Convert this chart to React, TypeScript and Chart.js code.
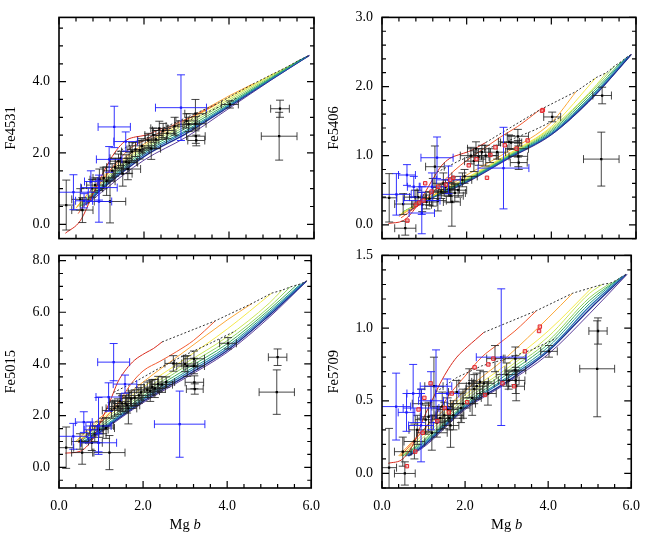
import React, { useEffect, useRef } from "react";
import { Chart, registerables } from "chart.js";

Chart.register(...registerables);

// ---------------- DATA ----------------
// Model tracks (red = youngest ... purple = oldest); Mg b sample points shared by all panels
const trackMgb: number[][] = [
  [0.15, 0.5, 0.8, 1.0, 1.2, 1.4, 1.6, 1.8, 2.05, 2.25, 2.45],
  [0.45, 1.0, 1.4, 1.7, 2.0, 2.4, 2.8, 3.2, 3.72],
  [0.4, 1.0, 2.0, 3.0, 4.0, 4.59],
  [0.42, 1.0, 2.0, 3.0, 4.0, 5.06],
  [0.45, 1.0, 2.0, 3.0, 4.0, 5.0, 5.3],
  [0.48, 1.0, 2.0, 3.0, 4.0, 5.0, 5.5],
  [0.5, 1.0, 2.0, 3.0, 4.0, 5.0, 5.65],
  [0.55, 1.0, 2.0, 3.0, 4.0, 5.0, 5.75],
  [0.58, 1.0, 2.0, 3.0, 4.0, 5.0, 5.82],
  [0.62, 1.0, 2.0, 3.0, 4.0, 5.0, 5.88],
  [0.65, 1.0, 2.0, 3.0, 4.0, 5.0, 5.9],
];

const trackFe4531: number[][] = [
  [-0.25, 0.1, 0.85, 1.35, 1.8, 2.15, 2.37, 2.45, 2.5, 2.6, 2.7],
  [0.3, 1.2, 1.8, 2.15, 2.35, 2.6, 2.85, 3.05, 3.38],
  [0.45, 1.3, 2.25, 2.93, 3.6, 3.95],
  [0.5, 1.25, 2.2, 2.88, 3.55, 4.23],
  [0.5, 1.2, 2.15, 2.82, 3.5, 4.18, 4.37],
  [0.5, 1.15, 2.1, 2.76, 3.45, 4.15, 4.5],
  [0.5, 1.1, 2.05, 2.7, 3.4, 4.12, 4.6],
  [0.52, 1.06, 2.0, 2.64, 3.36, 4.1, 4.66],
  [0.52, 1.02, 1.95, 2.6, 3.33, 4.08, 4.7],
  [0.55, 0.98, 1.9, 2.55, 3.3, 4.07, 4.73],
  [0.55, 0.9, 1.8, 2.45, 3.25, 4.05, 4.74],
];

const trackFe5406: number[][] = [
  [0.02, 0.06, 0.25, 0.45, 0.66, 0.85, 0.96, 1.01, 1.06, 1.12, 1.19],
  [0.1, 0.35, 0.6, 0.78, 0.93, 1.1, 1.27, 1.42, 1.66],
  [0.12, 0.35, 0.72, 1.07, 1.48, 1.93],
  [0.14, 0.35, 0.68, 1.03, 1.42, 2.13],
  [0.16, 0.36, 0.67, 1.02, 1.4, 1.98, 2.2],
  [0.18, 0.36, 0.66, 1.01, 1.38, 1.96, 2.3],
  [0.19, 0.35, 0.65, 1.0, 1.36, 1.93, 2.36],
  [0.2, 0.35, 0.64, 0.99, 1.34, 1.9, 2.41],
  [0.2, 0.34, 0.63, 0.98, 1.32, 1.88, 2.44],
  [0.2, 0.34, 0.62, 0.97, 1.31, 1.86, 2.46],
  [0.2, 0.33, 0.61, 0.96, 1.3, 1.85, 2.47],
];

const trackFe5015: number[][] = [
  [0.55, 0.62, 1.1, 1.8, 2.5, 3.3, 3.8, 4.15, 4.42, 4.6, 4.85],
  [0.95, 1.75, 2.45, 3.2, 3.73, 4.1, 4.48, 4.91, 5.67],
  [1.0, 1.95, 3.3, 4.5, 5.7, 6.34],
  [1.02, 1.85, 3.1, 4.2, 5.35, 6.74],
  [1.0, 1.75, 2.95, 4.02, 5.05, 6.35, 6.85],
  [1.0, 1.66, 2.85, 3.9, 4.9, 6.2, 6.98],
  [0.98, 1.58, 2.76, 3.78, 4.78, 6.1, 7.05],
  [0.96, 1.5, 2.68, 3.68, 4.68, 6.02, 7.1],
  [0.95, 1.45, 2.62, 3.6, 4.6, 5.95, 7.15],
  [0.92, 1.4, 2.55, 3.52, 4.52, 5.88, 7.2],
  [0.9, 1.35, 2.5, 3.45, 4.45, 5.8, 7.22],
];

const trackFe5709: number[][] = [
  [0.07, 0.1, 0.23, 0.38, 0.5, 0.62, 0.72, 0.8, 0.87, 0.92, 0.97],
  [0.12, 0.3, 0.45, 0.57, 0.67, 0.8, 0.89, 0.98, 1.12],
  [0.12, 0.3, 0.57, 0.8, 1.07, 1.24],
  [0.12, 0.27, 0.54, 0.75, 0.98, 1.28],
  [0.12, 0.25, 0.52, 0.72, 0.94, 1.24, 1.3],
  [0.12, 0.23, 0.5, 0.7, 0.91, 1.21, 1.31],
  [0.12, 0.22, 0.48, 0.68, 0.89, 1.19, 1.33],
  [0.12, 0.21, 0.47, 0.66, 0.87, 1.17, 1.35],
  [0.12, 0.2, 0.46, 0.65, 0.85, 1.15, 1.36],
  [0.12, 0.19, 0.45, 0.63, 0.84, 1.13, 1.37],
  [0.12, 0.18, 0.44, 0.62, 0.82, 1.1, 1.37],
];

// lower iso-metallicity (dotted) line
const lowerDotMgb = [1.3, 1.8, 2.4, 3.0, 3.6, 4.2];
const lowerDotFe4531 = [1.98, 2.3, 2.58, 2.88, 3.2, 3.55];
const lowerDotFe5406 = [0.76, 0.92, 1.08, 1.22, 1.37, 1.55];
const lowerDotFe5015 = [2.9, 3.3, 3.85, 4.35, 4.8, 5.28];
const lowerDotFe5709 = [0.56, 0.66, 0.74, 0.79, 0.85, 0.93];

// black objects
const blackMgb = [5.2, 5.18, 4.02, 3.21, 3.21, 3.22, 3.23, 3.05, 2.72, 2.45, 2.36, 2.28, 2.22, 2.17, 2.1, 1.9, 1.8, 1.72, 1.65, 1.58, 1.5, 1.4, 1.32, 1.25, 1.2, 1.12, 1.05, 0.95, 0.85, 0.78, 0.55, 0.5, 0.17, 1.62, 2.55, 3.0, 1.95, 1.45];
const blackMgbErr = [0.22, 0.42, 0.2, 0.25, 0.25, 0.22, 0.2, 0.25, 0.2, 0.25, 0.2, 0.25, 0.2, 0.22, 0.25, 0.22, 0.2, 0.25, 0.2, 0.25, 0.22, 0.2, 0.2, 0.22, 0.37, 0.2, 0.25, 0.22, 0.2, 0.25, 0.25, 0.2, 0.18, 0.3, 0.2, 0.25, 0.3, 0.25];
const blackFe4531 = [3.24, 2.47, 3.36, 3.1, 2.82, 2.47, 2.35, 2.8, 2.75, 2.63, 2.69, 2.38, 2.5, 2.12, 2.35, 2.08, 2.1, 2.04, 1.73, 1.75, 1.42, 1.77, 1.6, 1.5, 0.64, 1.21, 1.3, 1.25, 1.1, 1.01, 0.4, 0.7, 0.54, 1.55, 2.55, 2.9, 2.2, 1.85];
const blackFe4531Err = [0.24, 0.67, 0.1, 0.4, 0.2, 0.2, 0.15, 0.2, 0.25, 0.2, 0.2, 0.25, 0.2, 0.3, 0.2, 0.25, 0.2, 0.25, 0.3, 0.2, 0.35, 0.2, 0.25, 0.2, 0.6, 0.4, 0.3, 0.3, 0.2, 0.25, 0.35, 0.3, 0.7, 0.3, 0.15, 0.2, 0.2, 0.2];
const blackFe5406 = [1.87, 0.95, 1.56, 1.28, 1.1, 0.99, 0.9, 1.19, 1.05, 1.0, 1.05, 0.98, 1.1, 0.92, 1.0, 0.65, 0.5, 0.46, 0.33, 0.51, 0.55, 0.48, 0.35, 0.84, 0.47, 0.38, 0.33, 0.29, 0.4, 0.4, -0.05, 0.3, 0.39, 0.42, 1.0, 1.2, 0.7, 0.6];
const blackFe5406Err = [0.12, 0.39, 0.07, 0.1, 0.12, 0.15, 0.1, 0.1, 0.1, 0.15, 0.1, 0.12, 0.1, 0.15, 0.12, 0.1, 0.1, 0.12, 0.35, 0.1, 0.1, 0.1, 0.15, 0.3, 0.2, 0.1, 0.1, 0.1, 0.1, 0.1, 0.1, 0.15, 0.35, 0.1, 0.1, 0.1, 0.1, 0.15];
const blackFe5015 = [4.26, 2.91, 4.8, 4.2, 3.92, 3.29, 3.03, 3.92, 4.02, 3.2, 3.22, 3.05, 3.1, 2.95, 3.0, 2.78, 2.7, 2.66, 2.28, 2.47, 2.47, 2.35, 2.28, 2.2, 0.57, 1.52, 1.6, 1.46, 1.3, 0.95, 0.57, 1.0, 0.76, 2.4, 3.3, 4.0, 2.9, 2.55];
const blackFe5015Err = [0.32, 0.86, 0.22, 0.3, 0.3, 0.25, 0.2, 0.4, 0.3, 0.3, 0.3, 0.35, 0.3, 0.4, 0.3, 0.3, 0.3, 0.3, 0.6, 0.3, 0.3, 0.3, 0.3, 0.3, 0.66, 0.4, 0.3, 0.3, 0.3, 0.3, 0.45, 0.3, 0.8, 0.3, 0.2, 0.3, 0.3, 0.3];
const blackFe5709 = [0.98, 0.72, 0.84, 0.79, 0.71, 0.64, 0.6, 0.64, 0.79, 0.62, 0.63, 0.6, 0.58, 0.52, 0.62, 0.45, 0.56, 0.4, 0.33, 0.44, 0.4, 0.38, 0.35, 0.6, 0.28, 0.39, 0.37, 0.48, 0.3, 0.22, 0.0, 0.15, 0.04, 0.38, 0.55, 0.68, 0.48, 0.46];
const blackFe5709Err = [0.09, 0.33, 0.04, 0.08, 0.1, 0.09, 0.1, 0.06, 0.09, 0.08, 0.08, 0.09, 0.1, 0.12, 0.1, 0.1, 0.08, 0.1, 0.15, 0.08, 0.09, 0.08, 0.1, 0.2, 0.12, 0.1, 0.1, 0.1, 0.1, 0.12, 0.08, 0.1, 0.27, 0.08, 0.08, 0.08, 0.1, 0.1];

// blue objects
const blueMgb = [2.87, 1.3, 1.57, 1.18, 0.94, 0.94, 0.34, 0.59, 0.75];
const blueMgbErr = [0.6, 0.38, 0.28, 0.3, 0.43, 0.3, 0.35, 0.2, 0.15];
const blueFe4531 = [3.27, 2.73, 2.32, 1.82, 1.03, 0.64, 0.9, 0.66, 1.2];
const blueFe4531Err = [0.92, 0.58, 0.27, 0.36, 0.35, 0.58, 0.49, 0.2, 0.3];
const blueFe5406 = [0.82, 0.97, 0.65, 0.55, 0.35, 0.17, 0.44, 0.72, 0.55];
const blueFe5406Err = [0.59, 0.3, 0.2, 0.2, 0.2, 0.3, 0.3, 0.15, 0.15];
const blueFe5015 = [1.67, 4.07, 3.22, 2.72, 0.95, 1.6, 1.2, 1.75, 1.45];
const blueFe5015Err = [1.28, 0.72, 0.35, 0.55, 0.35, 1.1, 0.5, 0.4, 0.3];
const blueFe5709 = [0.8, 0.6, 0.55, 0.5, 0.45, 0.33, 0.46, 0.42, 0.55];
const blueFe5709Err = [0.47, 0.25, 0.1, 0.2, 0.1, 0.25, 0.23, 0.13, 0.2];

// red squares (right-hand panels only)
const redMgb = [3.8, 3.78, 3.44, 3.18, 2.9, 2.68, 2.56, 2.48, 2.23, 2.05, 1.68, 1.61, 1.51, 1.33, 1.17, 1.02, 0.98, 0.88, 0.8, 0.6];
const redFe5406 = [1.66, 1.65, 1.22, 1.1, 1.15, 1.12, 1.01, 0.68, 0.95, 0.86, 0.68, 0.65, 0.58, 0.55, 0.48, 0.6, 0.35, 0.32, 0.29, 0.06];
const redFe5709 = [1.01, 0.98, 0.84, 0.6, 0.62, 0.79, 0.75, 0.54, 0.73, 0.49, 0.55, 0.42, 0.45, 0.36, 0.62, 0.52, 0.28, 0.44, 0.15, 0.05];

// ---------------- STYLE ----------------
const FONT = '"Liberation Serif", "Times New Roman", Times, serif';
const TRACK_COLORS = ["#d8291c", "#f25a30", "#fca838", "#f6ea4c", "#cbe65a", "#8ed25e", "#3eac5c", "#1f9a8c", "#2474b4", "#1b2e90", "#5c3e9a"];
const TRACK_WIDTHS = [1, 1, 1, 1, 1, 1, 1, 1, 1.2, 1.4, 1];

// ---------------- PLUGINS ----------------
const framePlugin = {
  id: "frame",
  afterDraw(chart: any, _args: any, opts: any) {
    const { ctx, chartArea: a } = chart;
    const xs = chart.scales.x;
    const ys = chart.scales.y;
    ctx.save();
    ctx.strokeStyle = "#000";
    ctx.lineWidth = 1.2;
    const ticks = (scale: any, major: number, minor: number, horiz: boolean) => {
      const s = Math.ceil((scale.min - 1e-9) / minor);
      const e = Math.floor((scale.max + 1e-9) / minor);
      for (let i = s; i <= e; i++) {
        const v = i * minor;
        const isMajor = Math.abs(v / major - Math.round(v / major)) < 1e-6;
        const len = isMajor ? 7 : 4;
        const p = scale.getPixelForValue(v);
        ctx.beginPath();
        if (horiz) {
          ctx.moveTo(p, a.bottom); ctx.lineTo(p, a.bottom - len);
          ctx.moveTo(p, a.top); ctx.lineTo(p, a.top + len);
        } else {
          ctx.moveTo(a.left, p); ctx.lineTo(a.left + len, p);
          ctx.moveTo(a.right, p); ctx.lineTo(a.right - len, p);
        }
        ctx.stroke();
      }
    };
    ticks(xs, opts.xMajor, opts.xMinor, true);
    ticks(ys, opts.yMajor, opts.yMinor, false);
    ctx.lineWidth = 1.6;
    ctx.strokeRect(a.left, a.top, a.right - a.left, a.bottom - a.top);
    if (opts.xTitle) {
      const cx = (a.left + a.right) / 2;
      ctx.fillStyle = "#000";
      ctx.textBaseline = "middle";
      ctx.textAlign = "left";
      ctx.font = `14.5px ${FONT}`;
      const w1 = ctx.measureText("Mg ").width;
      ctx.font = `italic 14.5px ${FONT}`;
      const w2 = ctx.measureText("b").width;
      const x0 = cx - (w1 + w2) / 2;
      ctx.font = `14.5px ${FONT}`;
      ctx.fillText("Mg ", x0, opts.xTitleY);
      ctx.font = `italic 14.5px ${FONT}`;
      ctx.fillText("b", x0 + w1, opts.xTitleY);
    }
    ctx.restore();
  },
};

const errorBarPlugin = {
  id: "errbars",
  beforeDatasetDraw(chart: any, args: any) {
    const ds = chart.data.datasets[args.index];
    if (!ds.errColor) return;
    const { ctx, chartArea: a } = chart;
    const xs = chart.scales.x;
    const ys = chart.scales.y;
    ctx.save();
    ctx.beginPath();
    ctx.rect(a.left, a.top, a.right - a.left, a.bottom - a.top);
    ctx.clip();
    ctx.strokeStyle = ds.errColor;
    ctx.lineWidth = 1;
    const cap = 4;
    for (const p of ds.data) {
      const x = xs.getPixelForValue(p.x);
      const y = ys.getPixelForValue(p.y);
      const x0 = xs.getPixelForValue(p.x - p.xe);
      const x1 = xs.getPixelForValue(p.x + p.xe);
      const y0 = ys.getPixelForValue(p.y - p.ye);
      const y1 = ys.getPixelForValue(p.y + p.ye);
      ctx.beginPath();
      ctx.moveTo(x0, y); ctx.lineTo(x1, y);
      ctx.moveTo(x0, y - cap); ctx.lineTo(x0, y + cap);
      ctx.moveTo(x1, y - cap); ctx.lineTo(x1, y + cap);
      ctx.moveTo(x, y0); ctx.lineTo(x, y1);
      ctx.moveTo(x - cap, y0); ctx.lineTo(x + cap, y0);
      ctx.moveTo(x - cap, y1); ctx.lineTo(x + cap, y1);
      ctx.stroke();
    }
    ctx.restore();
  },
};

// ---------------- PANELS ----------------
type PanelSpec = {
  title: string;
  left: number; top: number; w: number; h: number;
  yWidth: number; padRight: number; padTop: number; xHeight: number;
  showX: boolean; titlePad: number;
  yMin: number; yMax: number; yStep: number; yMinor: number;
  tracks: number[][]; lowerDot: number[];
  black: number[]; blackErr: number[]; blue: number[]; blueErr: number[];
  red?: number[];
};

const LEFT = { left: 0, w: 330, yWidth: 59, padRight: 16, titlePad: 2 };
const RIGHT = { left: 322, w: 328, yWidth: 60, padRight: 14, titlePad: 3.6 };
const TOP = { top: 0, h: 256, padTop: 13, xHeight: 6, showX: false };
const BOTTOM = { top: 238, h: 300, padTop: 12, xHeight: 50, showX: true };

const panels: PanelSpec[] = [
  { title: "Fe4531", ...LEFT, ...TOP, yMin: -0.4, yMax: 5.8, yStep: 2, yMinor: 0.5,
    tracks: trackFe4531, lowerDot: lowerDotFe4531, black: blackFe4531, blackErr: blackFe4531Err, blue: blueFe4531, blueErr: blueFe4531Err },
  { title: "Fe5406", ...RIGHT, ...TOP, yMin: -0.2, yMax: 3.0, yStep: 1, yMinor: 0.2,
    tracks: trackFe5406, lowerDot: lowerDotFe5406, black: blackFe5406, blackErr: blackFe5406Err, blue: blueFe5406, blueErr: blueFe5406Err, red: redFe5406 },
  { title: "Fe5015", ...LEFT, ...BOTTOM, yMin: -0.8, yMax: 8.2, yStep: 2, yMinor: 0.5,
    tracks: trackFe5015, lowerDot: lowerDotFe5015, black: blackFe5015, blackErr: blackFe5015Err, blue: blueFe5015, blueErr: blueFe5015Err },
  { title: "Fe5709", ...RIGHT, ...BOTTOM, yMin: -0.1, yMax: 1.5, yStep: 0.5, yMinor: 0.1,
    tracks: trackFe5709, lowerDot: lowerDotFe5709, black: blackFe5709, blackErr: blackFe5709Err, blue: blueFe5709, blueErr: blueFe5709Err, red: redFe5709 },
];

function buildConfig(p: PanelSpec): any {
  const datasets: any[] = [];
  if (p.red) {
    datasets.push({
      data: redMgb.map((x, i) => ({ x, y: p.red![i] })),
      pointStyle: "rect", pointRadius: 2.4, borderWidth: 1,
      borderColor: "#e3262b", backgroundColor: "rgba(250,140,140,0.55)",
    });
  }
  datasets.push({
    data: blueMgb.map((x, i) => ({ x, y: p.blue[i], xe: blueMgbErr[i], ye: p.blueErr[i] })),
    errColor: "rgba(30,30,255,0.9)",
    pointStyle: "rect", pointRadius: 1.6, borderWidth: 0, backgroundColor: "#1818ff",
  });
  datasets.push({
    data: blackMgb.map((x, i) => ({ x, y: p.black[i], xe: blackMgbErr[i], ye: p.blackErr[i] })),
    errColor: "rgba(30,30,30,0.82)",
    pointStyle: "rect", pointRadius: 1.6, borderWidth: 0, backgroundColor: "#000",
  });
  // upper dotted line through the high-metallicity ends of the tracks
  datasets.push({
    data: trackMgb.map((mg, i) => ({ x: mg[mg.length - 1], y: p.tracks[i][p.tracks[i].length - 1] })),
    showLine: true, pointRadius: 0, borderColor: "#333", borderWidth: 1, borderDash: [2, 2],
  });
  datasets.push({
    data: lowerDotMgb.map((x, i) => ({ x, y: p.lowerDot[i] })),
    showLine: true, pointRadius: 0, borderColor: "#333", borderWidth: 1, borderDash: [2, 2],
  });
  trackMgb.forEach((mg, i) => {
    datasets.push({
      data: mg.map((x, j) => ({ x, y: p.tracks[i][j] })),
      showLine: true, pointRadius: 0, borderColor: TRACK_COLORS[i], borderWidth: TRACK_WIDTHS[i],
      cubicInterpolationMode: "monotone", fill: false,
    });
  });

  const tickFont = { family: FONT, size: 14 };
  return {
    type: "scatter",
    data: { datasets },
    plugins: [framePlugin, errorBarPlugin],
    options: {
      responsive: false,
      animation: false,
      events: [],
      layout: { padding: { left: 0, right: p.padRight, top: p.padTop, bottom: 0 } },
      plugins: {
        legend: { display: false },
        tooltip: { enabled: false },
        frame: {
          xMajor: 2, xMinor: 0.4, yMajor: p.yStep, yMinor: p.yMinor,
          xTitle: p.showX, xTitleY: 525 - p.top,
        },
      },
      scales: {
        x: {
          type: "linear", min: 0, max: 6,
          afterFit: (s: any) => { s.height = p.xHeight; },
          grid: { display: false, drawTicks: false },
          border: { display: false },
          ticks: {
            display: p.showX, stepSize: 2, includeBounds: false, padding: 10,
            font: tickFont, color: "#000", maxRotation: 0, autoSkip: false,
            callback: (v: any) => Number(v).toFixed(1),
          },
        },
        y: {
          type: "linear", min: p.yMin, max: p.yMax,
          afterFit: (s: any) => { s.width = p.yWidth; },
          grid: { display: false, drawTicks: false },
          border: { display: false },
          ticks: {
            stepSize: p.yStep, includeBounds: false, padding: 9,
            font: tickFont, color: "#000", autoSkip: false,
            callback: (v: any) => Number(v).toFixed(1),
          },
          title: {
            display: true, text: p.title, color: "#000",
            font: { family: FONT, size: 14.5 },
            padding: { top: p.titlePad, bottom: 0 },
          },
        },
      },
    },
  };
}

function Panel({ spec }: { spec: PanelSpec }) {
  const ref = useRef<HTMLCanvasElement>(null);
  useEffect(() => {
    const chart = new Chart(ref.current as HTMLCanvasElement, buildConfig(spec));
    return () => chart.destroy();
  }, [spec]);
  return (
    <canvas
      ref={ref}
      width={spec.w}
      height={spec.h}
      style={{ position: "absolute", left: spec.left, top: spec.top, width: spec.w, height: spec.h }}
    />
  );
}

export default function App() {
  return (
    <div style={{ position: "fixed", left: 0, top: 0, width: 650, height: 538, background: "#fff" }}>
      {panels.map((p) => (
        <Panel key={p.title} spec={p} />
      ))}
    </div>
  );
}
